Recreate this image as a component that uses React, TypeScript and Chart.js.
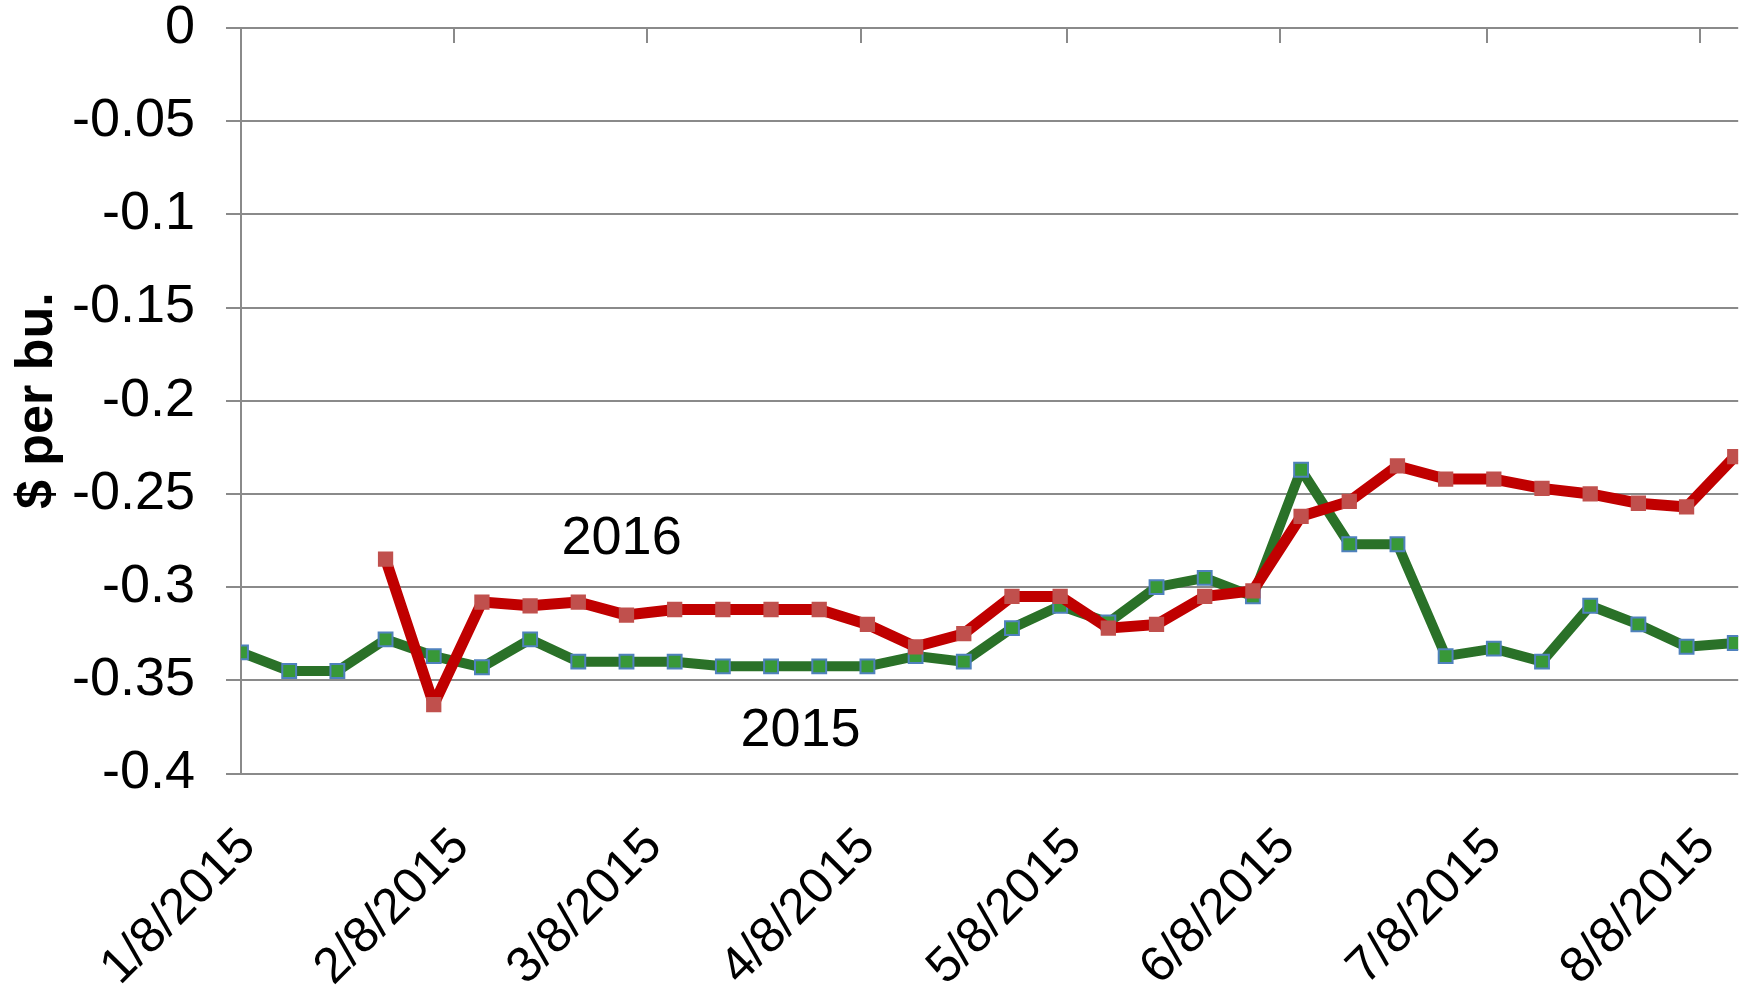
import { useEffect, useRef } from "react";
import { Chart, registerables } from "chart.js";

Chart.register(...registerables);

const dates = [
  "2015-01-08", "2015-01-15", "2015-01-22", "2015-01-29", "2015-02-05", "2015-02-12",
  "2015-02-19", "2015-02-26", "2015-03-05", "2015-03-12", "2015-03-19", "2015-03-26",
  "2015-04-02", "2015-04-09", "2015-04-16", "2015-04-23", "2015-04-30", "2015-05-07",
  "2015-05-14", "2015-05-21", "2015-05-28", "2015-06-04", "2015-06-11", "2015-06-18",
  "2015-06-25", "2015-07-02", "2015-07-09", "2015-07-16", "2015-07-23", "2015-07-30",
  "2015-08-06", "2015-08-13",
];

const values2015 = [
  -0.335, -0.345, -0.345, -0.328, -0.337, -0.343, -0.328, -0.34, -0.34, -0.34, -0.3425,
  -0.3425, -0.3425, -0.3425, -0.337, -0.34, -0.322, -0.31, -0.319, -0.3, -0.295, -0.305,
  -0.237, -0.277, -0.277, -0.337, -0.333, -0.34, -0.31, -0.32, -0.332, -0.33,
];

const values2016 = [
  null, null, null, -0.285, -0.363, -0.308, -0.31, -0.308, -0.315, -0.312, -0.312,
  -0.312, -0.312, -0.32, -0.332, -0.325, -0.305, -0.305, -0.322, -0.32, -0.305, -0.302,
  -0.262, -0.254, -0.235, -0.242, -0.242, -0.247, -0.25, -0.255, -0.257, -0.23,
];

const xTickDates = [
  "2015-01-08", "2015-02-08", "2015-03-08", "2015-04-08", "2015-05-08", "2015-06-08",
  "2015-07-08", "2015-08-08",
];

const yTickValues = [0, -0.05, -0.1, -0.15, -0.2, -0.25, -0.3, -0.35, -0.4];

const seriesLabels = [
  { text: "2016", date: "2015-03-04", value: -0.2744 },
  { text: "2015", date: "2015-03-30", value: -0.377 },
];

const DAY = 86400000;
const ORIGIN = Date.UTC(2015, 0, 8);
const toDay = (s: string) => {
  const [y, m, d] = s.split("-").map(Number);
  return (Date.UTC(y, m - 1, d) - ORIGIN) / DAY;
};
const fmtDate = (day: number) => {
  const dt = new Date(ORIGIN + day * DAY);
  return `${dt.getUTCMonth() + 1}/${dt.getUTCDate()}/${dt.getUTCFullYear()}`;
};

const FONT = "'Liberation Sans', Arial, sans-serif";
const GRID = "#8a8a8a";
const W = 1750;
const H = 988;

export default function App() {
  const ref = useRef<HTMLCanvasElement | null>(null);

  useEffect(() => {
    document.body.style.margin = "0";
    const canvas = ref.current;
    if (!canvas) return;

    const topTicks = {
      id: "topTicks",
      beforeDatasetsDraw(chart: any) {
        const { ctx, chartArea } = chart;
        const xs = chart.scales.x;
        ctx.save();
        ctx.strokeStyle = GRID;
        ctx.lineWidth = 2;
        xTickDates.forEach((d) => {
          const px = Math.round(xs.getPixelForValue(toDay(d)));
          ctx.beginPath();
          ctx.moveTo(px, chartArea.top);
          ctx.lineTo(px, chartArea.top + 15);
          ctx.stroke();
        });
        ctx.restore();
      },
      afterDatasetsDraw(chart: any) {
        const { ctx } = chart;
        const xs = chart.scales.x;
        const ys = chart.scales.y;
        ctx.save();
        ctx.fillStyle = "#000";
        ctx.font = `54px ${FONT}`;
        ctx.textAlign = "center";
        ctx.textBaseline = "middle";
        seriesLabels.forEach((l) => {
          ctx.fillText(l.text, xs.getPixelForValue(toDay(l.date)) + 2, ys.getPixelForValue(l.value));
        });
        ctx.restore();
      },
    };

    const chart = new Chart(canvas, {
      type: "line",
      data: {
        datasets: [
          {
            label: "2016",
            data: dates.map((d, i) => ({ x: toDay(d), y: values2016[i] })),
            borderColor: "#C00000",
            borderWidth: 11,
            borderJoinStyle: "round",
            pointStyle: "rect",
            pointRadius: 10.8,
            pointBackgroundColor: "#C0504D",
            pointBorderWidth: 0,
            pointBorderColor: "#C0504D",
            tension: 0,
            order: 0,
          },
          {
            label: "2015",
            data: dates.map((d, i) => ({ x: toDay(d), y: values2015[i] })),
            borderColor: "#2A7128",
            borderWidth: 10,
            borderJoinStyle: "round",
            pointStyle: "rect",
            pointRadius: 9.8,
            pointBackgroundColor: "#389838",
            pointBorderColor: "#4F81BD",
            pointBorderWidth: 2,
            tension: 0,
            order: 1,
          },
        ],
      } as any,
      options: {
        animation: false,
        responsive: false,
        layout: { padding: { top: 28, right: 7, left: 0, bottom: 0 } },
        plugins: { legend: { display: false }, tooltip: { enabled: false } },
        scales: {
          x: {
            type: "linear",
            position: "bottom",
            min: toDay(dates[0]),
            max: toDay(dates[dates.length - 1]) + 0.5,
            afterBuildTicks: (s: any) => {
              s.ticks = xTickDates.map((d) => ({ value: toDay(d) }));
            },
            ticks: {
              autoSkip: false,
              minRotation: 45,
              maxRotation: 45,
              padding: 36,
              labelOffset: 7,
              color: "#000",
              font: { family: FONT, size: 50 },
              callback: (v: any) => fmtDate(Number(v)),
            },
            grid: { display: false },
            border: { display: false },
            afterFit: (s: any) => {
              s.height = H - 773.5;
              s.paddingLeft = 0;
              s.paddingRight = 0;
            },
          },
          y: {
            type: "linear",
            min: -0.4,
            max: 0,
            afterBuildTicks: (s: any) => {
              s.ticks = yTickValues.map((v) => ({ value: v }));
            },
            ticks: {
              autoSkip: false,
              padding: 31,
              color: "#000",
              font: { family: FONT, size: 54 },
              callback: (v: any) => String(Math.round(Number(v) * 100) / 100),
            },
            grid: { color: GRID, lineWidth: 2, tickLength: 15, drawTicks: true },
            border: { display: true, color: GRID, width: 2 },
            title: {
              display: true,
              text: "$ per bu.",
              color: "#000",
              font: { family: FONT, size: 52, weight: "bold" },
              padding: { top: 6, bottom: 0 },
            },
            afterFit: (s: any) => {
              s.width = 241;
              s.paddingTop = 0;
              s.paddingBottom = 0;
            },
          },
        },
      } as any,
      plugins: [topTicks],
    });

    return () => chart.destroy();
  }, []);

  return (
    <canvas
      ref={ref}
      width={W}
      height={H}
      style={{ display: "block", width: W, height: H }}
    />
  );
}
